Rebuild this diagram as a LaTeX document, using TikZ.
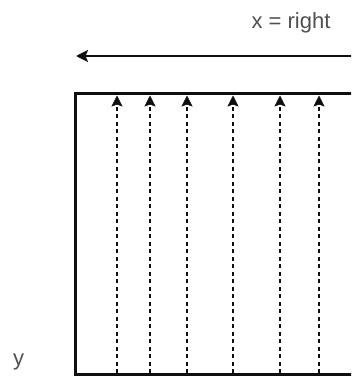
\documentclass[tikz,border=0pt]{standalone}
\usepackage{fontspec}
\setmainfont{Liberation Sans}
\usetikzlibrary{arrows.meta}
\definecolor{txtgray}{RGB}{80,80,80}
\definecolor{linedark}{RGB}{15,15,15}
\tikzset{
  lbl/.style={font=\fontsize{22}{26}\selectfont, text=txtgray, inner sep=0pt},
  frame/.style={draw=linedark, line width=3pt},
  axis/.style={draw=linedark, line width=2.2pt, -{Stealth[length=12pt,width=12pt,inset=2.5pt,fill=linedark]}},
  ray/.style={draw=linedark, line width=2.2pt, dash pattern=on 4pt off 3.5pt,
    -{Stealth[length=11pt,width=11pt,inset=2pt,fill=linedark,line width=0.5pt]}}
}
\begin{document}
\begin{tikzpicture}[x=1pt,y=-1pt]
\useasboundingbox (0,0) rectangle (351,377);
\clip (0,0) rectangle (351,377);
% labels
\node[lbl, anchor=base] (xl) at (291,29) {x = right};
\node[lbl, anchor=base] (yl) at (18.5,365) {y};
% horizontal axis arrow
\coordinate (axR) at (360,56);
\coordinate (axL) at (76,56);
\draw[axis] (axR) -- (axL);
% frame
\draw[frame] (370,93.5) -- (75,93.5) -- (75,374.5) -- (370,374.5);
% dashed rays
\foreach \n/\xx in {a/117,b/150,c/187,d/233,e/280,f/319}{
  \coordinate (\n0) at (\xx,373);
  \coordinate (\n1) at (\xx,95.5);
  \draw[ray] (\n0) -- (\n1);
}
\end{tikzpicture}
\end{document}
